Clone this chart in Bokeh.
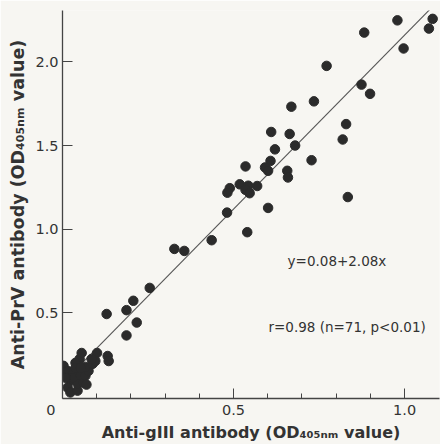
from bokeh.plotting import figure
from bokeh.models import FixedTicker, Label, Range1d, PrintfTickFormatter
from bokeh.embed import file_html
from bokeh.resources import INLINE

# Anti-gIII antibody OD (x) and Anti-PrV antibody OD (y)
gIII = [0.979, 1.082, 1.071, 0.882, 0.997, 0.772, 0.874, 0.899, 0.735, 0.669,
        0.829, 0.610, 0.664, 0.819, 0.680, 0.621, 0.608, 0.728, 0.535, 0.592,
        0.601, 0.657, 0.659, 0.518, 0.543, 0.569, 0.535, 0.547, 0.489, 0.482,
        0.834, 0.601, 0.481, 0.540, 0.436, 0.327, 0.356, 0.255, 0.207, 0.187,
        0.129, 0.217, 0.187, 0.132, 0.101,
        0.003, 0.001, 0.015, 0.023, 0.015, 0.023, 0.044, 0.044, 0.032, 0.029,
        0.053, 0.061, 0.067, 0.076, 0.067, 0.050, 0.056, 0.038, 0.088, 0.096,
        0.085, 0.038, 0.053, 0.135, 0.009, 0.070]
prv = [2.248, 2.257, 2.199, 2.175, 2.080, 1.976, 1.864, 1.809, 1.764, 1.732,
       1.628, 1.581, 1.569, 1.536, 1.500, 1.477, 1.408, 1.412, 1.375, 1.369,
       1.349, 1.349, 1.309, 1.268, 1.260, 1.258, 1.235, 1.215, 1.245, 1.218,
       1.192, 1.127, 1.099, 0.982, 0.934, 0.882, 0.870, 0.649, 0.572, 0.516,
       0.493, 0.442, 0.365, 0.242, 0.260,
       0.183, 0.136, 0.153, 0.094, 0.053, 0.024, 0.035, 0.077, 0.142, 0.112,
       0.124, 0.083, 0.124, 0.153, 0.177, 0.224, 0.260, 0.201, 0.195, 0.212,
       0.224, 0.171, 0.171, 0.212, 0.112, 0.071]

# regression y = a + b x
reg_a = 0.08
reg_b = 2.08
reg_x = [0.02, 1.075]
reg_y = [reg_a + reg_b * v for v in reg_x]

x_ticks = [0.0, 0.5, 1.0]
x_minor = [0.1, 0.2, 0.3, 0.4, 0.6, 0.7, 0.8, 0.9]
y_ticks = [0.5, 1.0, 1.5, 2.0]
origin_label = "0"

eq_text = "y=0.08+2.08x"
r_text = "r=0.98 (n=71, p<0.01)"
x_title = "Anti-gIII antibody (OD\u2084\u2080\u2085\u2099\u2098 value)"
y_title = "Anti-PrV antibody (OD\u2084\u2080\u2085\u2099\u2098 value)"

BG = "#f7f6f2"
INK = "#2b2b2b"
FONT = "DejaVu Sans"

p = figure(width=440, height=444, output_backend="svg", toolbar_location=None,
           x_range=Range1d(0, 1.102), y_range=Range1d(-0.012, 2.307),
           min_border_left=62, min_border_right=1, min_border_top=10, min_border_bottom=41)
p.background_fill_color = BG
p.border_fill_color = BG
p.outline_line_color = None
p.grid.visible = False

p.line(reg_x, reg_y, line_color="#555555", line_width=1.1)
p.scatter(gIII, prv, size=9.5, fill_color=INK, line_color=INK)

for ax in (p.xaxis[0], p.yaxis[0]):
    ax.axis_line_color = "#444444"
    ax.axis_line_width = 1.3
    ax.major_tick_line_color = "#444444"
    ax.minor_tick_line_color = "#444444"
    ax.major_tick_out = 0
    ax.minor_tick_out = 0
    ax.major_label_text_font = FONT
    ax.major_label_text_font_size = "14.5px"
    ax.major_label_text_color = "#333333"
    ax.formatter = PrintfTickFormatter(format="%.1f")
    ax.axis_label_text_font = FONT
    ax.axis_label_text_font_style = "bold"
    ax.axis_label_text_color = "#333333"

p.xaxis[0].ticker = FixedTicker(ticks=x_ticks, minor_ticks=x_minor)
p.xaxis[0].major_tick_in = 10
p.xaxis[0].minor_tick_in = 5
p.xaxis[0].major_label_standoff = 3
# origin "0" sits a little left of the corner in the original
p.xaxis[0].major_label_overrides = {0: origin_label + "\u00a0" * 5}
p.xaxis[0].axis_label = x_title
p.xaxis[0].axis_label_text_font_size = "16px"
p.xaxis[0].axis_label_standoff = 2

p.yaxis[0].ticker = FixedTicker(ticks=y_ticks)
p.yaxis[0].major_tick_in = 10
p.yaxis[0].minor_tick_in = 0
p.yaxis[0].major_label_standoff = 4
p.yaxis[0].axis_label = y_title
p.yaxis[0].axis_label_text_font_size = "17.5px"
p.yaxis[0].axis_label_standoff = 4

p.add_layout(Label(x=0.658, y=0.808, text=eq_text, text_font=FONT, text_font_size="13.5px",
                   text_color="#333333", text_align="left", text_baseline="middle"))
p.add_layout(Label(x=0.602, y=0.413, text=r_text, text_font=FONT, text_font_size="13.5px",
                   text_color="#333333", text_align="left", text_baseline="middle"))

open("out.html", "w").write(file_html(p, INLINE))
